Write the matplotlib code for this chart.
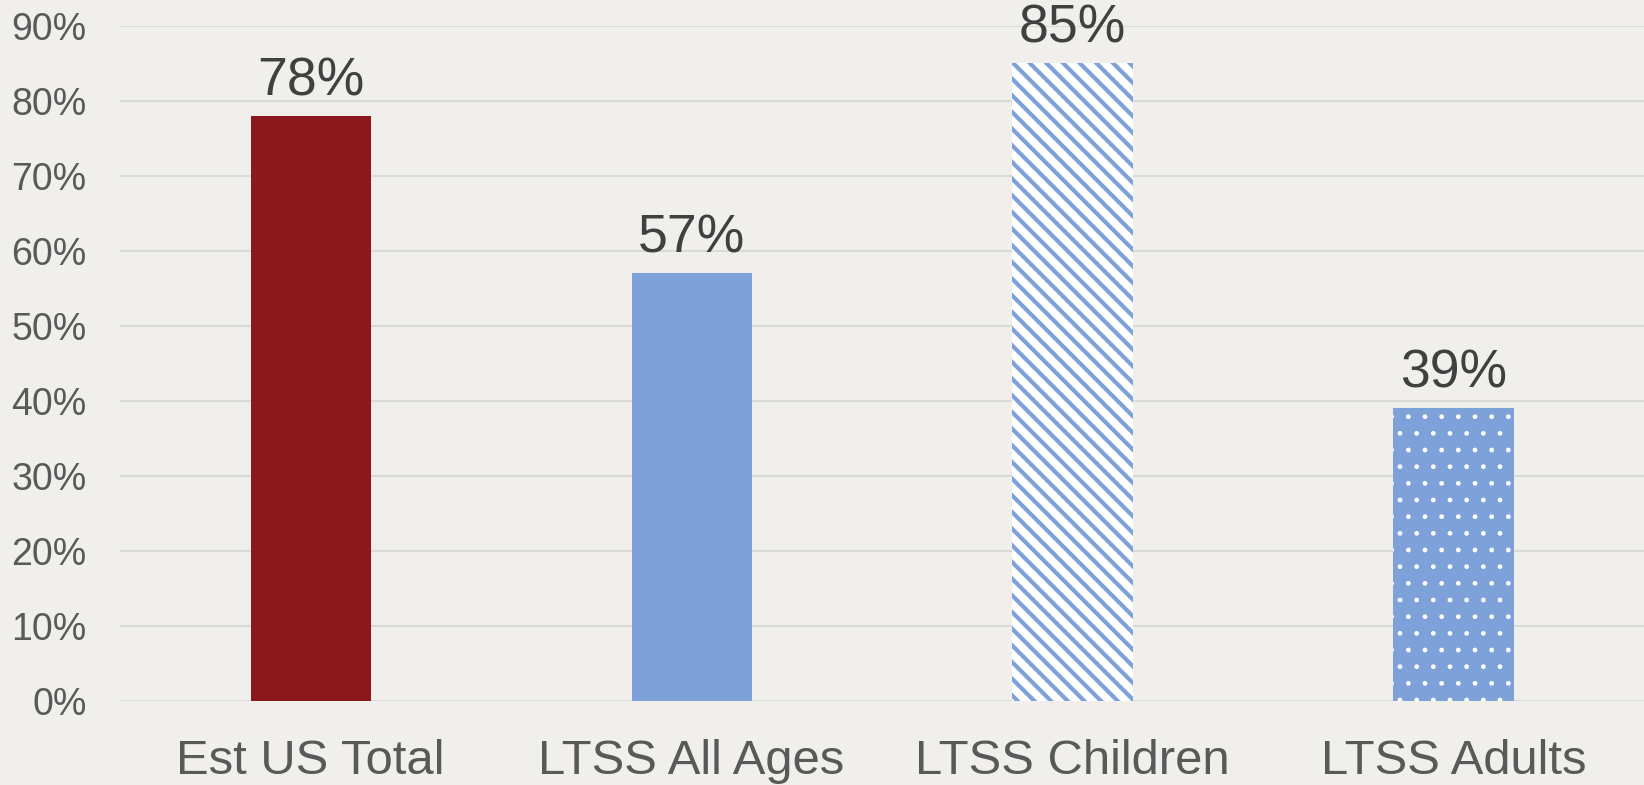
import matplotlib
matplotlib.use("Agg")
import matplotlib.pyplot as plt
import numpy as np

categories = ["Est US Total", "LTSS All Ages", "LTSS Children", "LTSS Adults"]
values = [0.78, 0.57, 0.85, 0.39]
value_labels = ["78%", "57%", "85%", "39%"]
yticks = [0.0, 0.1, 0.2, 0.3, 0.4, 0.5, 0.6, 0.7, 0.8, 0.9]

red = "#8B181C"
blue = "#7DA1D8"
bg = "#F0EFEC"

plt.rcParams["font.family"] = ["Liberation Sans", "DejaVu Sans"]

fig = plt.figure(figsize=(16.44, 7.85), dpi=100, facecolor=bg)
ax = fig.add_axes([0.073, 0.107, 0.927, 0.860])
ax.set_facecolor(bg)

x = np.arange(len(categories))
w = 0.315

# solid bars
ax.bar(x[0], values[0], w, color=red, linewidth=0, zorder=3)
ax.bar(x[1], values[1], w, color=blue, linewidth=0, zorder=3)

# striped bar: white fill, blue diagonal hatch
plt.rcParams["hatch.linewidth"] = 3.0
ax.bar(x[2], values[2], w, facecolor="white", edgecolor=blue, hatch="\\\\",
       linewidth=0, zorder=3)

# dotted bar: blue fill, white dots
plt.rcParams["hatch.linewidth"] = 1.0
ax.bar(x[3], values[3], w, facecolor=blue, edgecolor="white", hatch=".",
       linewidth=0, zorder=3)

for xi, v, lab in zip(x, values, value_labels):
    ax.annotate(lab, (xi, v), xytext=(0, 15), textcoords="offset points",
                ha="center", va="baseline", fontsize=38.5, color="#404040")

ax.set_xlim(-0.5, len(categories) - 0.5)
ax.set_ylim(0, 0.9)
ax.set_yticks(yticks)
ax.set_yticklabels([f"{int(round(t * 100))}%" for t in yticks])
ax.set_xticks(x)
ax.set_xticklabels(categories)
ax.tick_params(axis="y", length=0, pad=24, labelsize=27, labelcolor="#595959")
ax.tick_params(axis="x", length=0, pad=27, labelsize=35.3, labelcolor="#595959")
ax.yaxis.grid(True, color="#D9D9D9", linewidth=1.5, zorder=0)
ax.set_axisbelow(True)
for s in ax.spines.values():
    s.set_visible(False)

fig.savefig("out.png", dpi=100, facecolor=bg)
